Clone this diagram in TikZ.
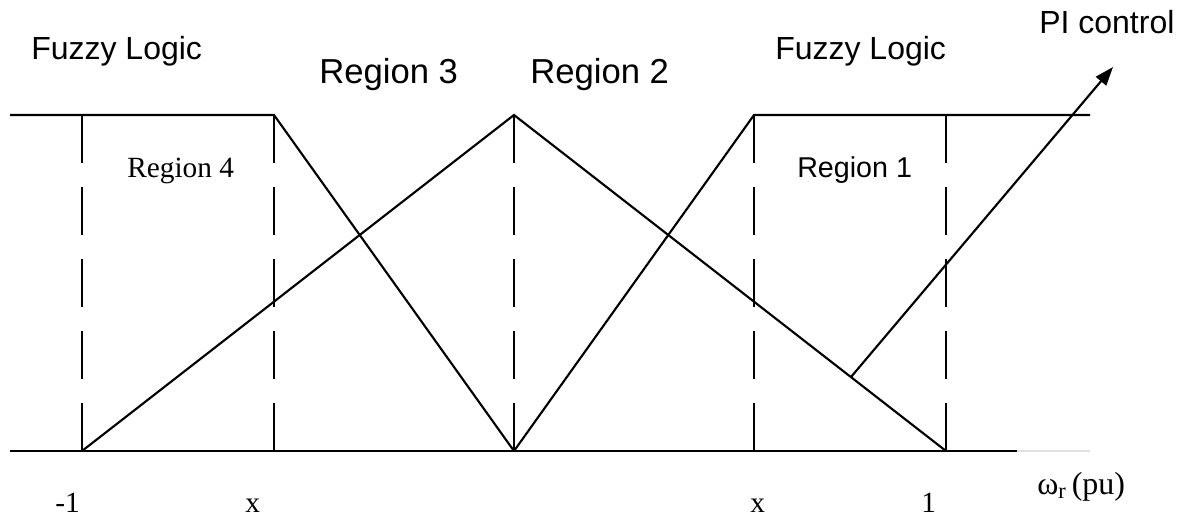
\documentclass[tikz,border=0pt]{standalone}
\usepackage{fontspec}
\setmainfont{Liberation Serif}
\newfontfamily\arialfont{Liberation Sans}
\usetikzlibrary{arrows.meta}

\tikzset{
  mfline/.style={line width=1.6pt, line join=miter},
  divline/.style={line width=1.6pt, dash pattern=on 36pt off 18pt},
  sflabel/.style={inner sep=0pt, anchor=base west, font=\arialfont\fontsize{24}{28}\selectfont},
  rmlabel/.style={inner sep=0pt, anchor=base west, font=\fontsize{22}{26}\selectfont},
}

\begin{document}
\begin{tikzpicture}[x=0.75pt,y=0.75pt,yscale=-1,xscale=1]
			\useasboundingbox (0,0) rectangle (1186,521);

			% corner points of the membership functions
			\coordinate (topL) at (10,115);
			\coordinate (botL) at (10,451);
			\coordinate (topR) at (1090,115);
			\coordinate (botR) at (1017,451);
			\coordinate (mOne) at (82,451);
			\coordinate (xLtop) at (274,115);
			\coordinate (peak) at (514,115);
			\coordinate (zero) at (514,451);
			\coordinate (xRtop) at (754,115);
			\coordinate (pOne) at (946,451);

			%Straight Lines : axis and top level
			\draw [mfline] (botL) -- (botR) ;
			\draw [line width=1pt, black!12] (botR) -- (1090,451) ;
			%Straight Lines : negative shoulder
			\draw [mfline] (topL) -- (xLtop) -- (zero) ;
			%Straight Lines : triangle
			\draw [mfline] (mOne) -- (peak) -- (pOne) ;
			%Straight Lines : positive shoulder
			\draw [mfline] (zero) -- (xRtop) -- (topR) ;

			%Dashed Lines : region borders
			\foreach \px in {82,274,514,754,946}
			  \draw [divline] (\px,115) -- (\px,451) ;

			%Straight Lines : PI control arrow
			\coordinate (piStart) at (851,377);
			\coordinate (piEnd) at (1113,67);
			\draw [mfline, -{Triangle[length=14pt,width=10pt]}] (piStart) -- (piEnd) ;

			% Text Node
			\node [sflabel] (fuzzyL) at (31,59) {Fuzzy Logic};
			% Text Node
			\node [sflabel, font=\arialfont\fontsize{26}{30}\selectfont] (reg3) at (319,83) {Region 3};
			% Text Node
			\node [sflabel, font=\arialfont\fontsize{26}{30}\selectfont] (reg2) at (530,83) {Region 2};
			% Text Node
			\node [sflabel] (fuzzyR) at (775,60) {Fuzzy Logic};
			% Text Node
			\node [sflabel] (piCtrl) at (1039,33) {PI control};
			% Text Node
			\node [rmlabel] (reg4) at (127,177) {Region 4};
			% Text Node
			\node [sflabel, font=\arialfont\fontsize{21.5}{26}\selectfont] (reg1) at (797,177) {Region 1};
			% Text Node
			\node [rmlabel] (lblmOne) at (55,512) {-1};
			\node [rmlabel] (lblxL) at (245,512) {x};
			\node [rmlabel] (lblxR) at (750,512) {x};
			\node [rmlabel] (lblpOne) at (921,512) {1};
			% Text Node
			\node [rmlabel, font=\fontsize{24}{28}\selectfont] (axisLbl) at (1037,494) {ω\textsubscript{r}\,(pu)};

\end{tikzpicture}
\end{document}
